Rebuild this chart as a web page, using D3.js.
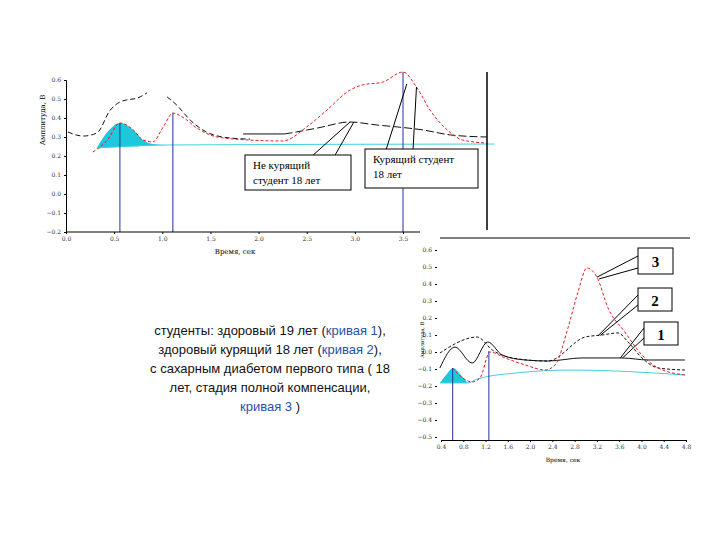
<!DOCTYPE html><html><head><meta charset="utf-8">
<script src="https://cdn.jsdelivr.net/npm/d3@7"></script>
<style>body{margin:0;background:#fff}</style></head><body>
<svg id="c" width="720" height="540"></svg>
<script>
// ---- top chart data (x: seconds, y: volts)
const topTicksX=[0.0,0.5,1.0,1.5,2.0,2.5,3.0,3.5];
const topTicksY=[-0.2,-0.1,0.0,0.1,0.2,0.3,0.4,0.5,0.6];
const topBlackA=[[0.02,0.326],[0.18,0.305],[0.32,0.321],[0.46,0.442],[0.56,0.484],[0.77,0.511],[0.84,0.532]];
const topBlackB=[[1.05,0.511],[1.15,0.468],[1.29,0.389],[1.46,0.326],[1.70,0.295],[1.91,0.289]];
const topBlackSolid=[[1.84,0.316],[2.27,0.316]];
const topBlackC=[[2.27,0.316],[2.33,0.321],[2.61,0.347],[2.95,0.379],[3.23,0.363],[3.44,0.353],[3.71,0.337],[3.99,0.311],[4.37,0.30]];
const topRed=[[0.28,0.221],[0.43,0.284],[0.56,0.374],[0.70,0.337],[0.80,0.284],[0.90,0.274],[1.01,0.353],[1.11,0.426],[1.21,0.405],[1.36,0.347],[1.57,0.300],[1.91,0.284],[2.25,0.279],[2.50,0.353],[2.71,0.442],[2.95,0.547],[3.08,0.574],[3.29,0.589],[3.50,0.642],[3.64,0.563],[3.78,0.442],[3.96,0.337],[4.12,0.284],[4.37,0.268]];
const topCyanTop=[[0.32,0.242],[0.43,0.326],[0.56,0.374],[0.70,0.337],[0.80,0.284],[0.90,0.263],[1.05,0.258]];
const topCyanBase=[[0.32,0.242],[1.05,0.258],[4.45,0.263]];
const topMarkers=[[0.56,0.374],[1.11,0.426],[3.50,0.642]];
// ---- bottom chart data
const botTicksX=[0.4,0.8,1.2,1.6,2,2.4,2.8,3.2,3.6,4,4.4,4.8];
const botTicksY=[-0.5,-0.4,-0.3,-0.2,-0.1,0.0,0.1,0.2,0.3,0.4,0.5,0.6];
const curve1=[[0.38,-0.094],[0.65,0.029],[0.96,-0.065],[1.24,0.059],[1.50,-0.018],[1.91,-0.047],[2.32,-0.053],[2.93,-0.035],[3.65,-0.035],[4.12,-0.047],[4.78,-0.047]];
const curve2=[[0.38,-0.006],[1.05,0.088],[1.32,0.012],[1.67,-0.035],[2.32,-0.053],[2.99,0.088],[3.29,0.10],[3.58,0.112],[3.76,0.059],[4.01,-0.035],[4.30,-0.094],[4.78,-0.106]];
const curve3=[[0.60,-0.094],[0.96,-0.176],[1.10,-0.153],[1.28,0.0],[1.55,-0.035],[1.91,-0.076],[2.27,-0.106],[2.45,-0.076],[2.68,0.141],[2.86,0.353],[3.02,0.494],[3.20,0.441],[3.40,0.259],[3.70,0.118],[4.01,-0.018],[4.30,-0.094],[4.78,-0.135]];
const botCyanTop=[[0.38,-0.182],[0.49,-0.135],[0.62,-0.094],[0.74,-0.129],[0.88,-0.182]];
const botCyanLine=[[0.38,-0.182],[0.88,-0.182],[1.05,-0.159],[1.73,-0.124],[2.75,-0.106],[4.78,-0.135]];
const botMarkers=[[0.61,-0.094],[1.26,0.006]];

const svg=d3.select("#c");
const tx=d3.scaleLinear().domain([0,3.5]).range([66,403]);
const ty=d3.scaleLinear().domain([-0.2,0.6]).range([232,80]);
const bx=d3.scaleLinear().domain([0.4,4.8]).range([441,686]);
const by=d3.scaleLinear().domain([-0.5,0.6]).range([437,250]);
function ln(xs,ys,cv){return d3.line().x(d=>xs(d[0])).y(d=>ys(d[1])).curve(cv||d3.curveMonotoneX);}
function path(g,data,xs,ys,stroke,dash,w){g.append("path").attr("d",ln(xs,ys)(data)).attr("fill","none").attr("stroke",stroke).attr("stroke-width",w||1).attr("stroke-dasharray",dash||null);}

// top chart
const T=svg.append("g");
T.append("path").attr("d",d3.area().x(d=>tx(d[0])).y1(d=>ty(d[1])).y0(d=>ty(0.242+(d[0]-0.32)*0.022)).curve(d3.curveMonotoneX)(topCyanTop)).attr("fill","#1ec8dc");
path(T,topCyanBase,tx,ty,"#40d0e0",null,1);
path(T,topBlackA,tx,ty,"#111","5,3");path(T,topBlackB,tx,ty,"#111","5,3");
path(T,topBlackSolid,tx,ty,"#111");path(T,topBlackC,tx,ty,"#111","8,3");
path(T,topRed,tx,ty,"#e02020","3,2");
topMarkers.forEach(m=>T.append("line").attr("x1",tx(m[0])).attr("x2",tx(m[0])).attr("y1",ty(m[1])).attr("y2",ty(-0.2)).attr("stroke","#223399"));
const ax1=T.append("g").attr("transform","translate(0,232)").call(d3.axisBottom(tx).tickValues(topTicksX).tickFormat(d3.format(".1f")).tickSize(2));
ax1.select(".domain").attr("d","M66,0H420");
const ay1=T.append("g").attr("transform","translate(66,0)").call(d3.axisLeft(ty).tickValues(topTicksY).tickFormat(d3.format(".1f")).tickSize(2));
svg.selectAll(".tick text").attr("font-family","DejaVu Serif").attr("font-size",6).attr("fill","#333");
T.append("text").attr("x",235).attr("y",254).attr("text-anchor","middle").attr("font-size",7).attr("font-family","DejaVu Serif").text("Время, сек");
T.append("text").attr("transform","translate(45,120) rotate(-90)").attr("text-anchor","middle").attr("font-size",7).attr("font-family","DejaVu Serif").text("Амплитуда, В");
T.append("line").attr("x1",487).attr("x2",487).attr("y1",72).attr("y2",230).attr("stroke","#000").attr("stroke-width",1.5);
T.append("line").attr("x1",440).attr("x2",690).attr("y1",238).attr("y2",238).attr("stroke","#000");
// callout boxes top
function box(x,y,w,h,lines,size,bold){svg.append("rect").attr("x",x).attr("y",y).attr("width",w).attr("height",h).attr("fill","#fff").attr("stroke","#000");
 lines.forEach((t,i)=>svg.append("text").attr("x",x+(bold?w/2:8)).attr("y",y+(bold?h/2+6:14+i*15)).attr("text-anchor",bold?"middle":"start").attr("font-family","Liberation Serif").attr("font-size",size).attr("font-weight",bold?"bold":null).text(t));}
function lineTo(x1,y1,x2,y2){svg.append("line").attr("x1",x1).attr("y1",y1).attr("x2",x2).attr("y2",y2).attr("stroke","#000");}
lineTo(311,157,tx(2.95),ty(0.379));lineTo(334,157,tx(2.99),ty(0.379));
lineTo(386,150,tx(3.54),ty(0.58));lineTo(413,150,tx(3.64),ty(0.563));
box(245,155,106,35,["Не курящий","студент 18 лет"],11);
box(365,149,113,39,["Курящий студент","18 лет"],11);

// bottom chart
const B=svg.append("g");
B.append("path").attr("d",d3.area().x(d=>bx(d[0])).y1(d=>by(d[1])).y0(by(-0.182)).curve(d3.curveMonotoneX)(botCyanTop)).attr("fill","#1ec8dc");
path(B,botCyanLine,bx,by,"#40d0e0");
path(B,curve1,bx,by,"#111");
path(B,curve2,bx,by,"#111","3,2");
path(B,curve3,bx,by,"#e02020","3,2");
botMarkers.forEach(m=>B.append("line").attr("x1",bx(m[0])).attr("x2",bx(m[0])).attr("y1",by(m[1])).attr("y2",440).attr("stroke","#223399"));
const ax2=B.append("g").attr("transform","translate(0,440)").call(d3.axisBottom(bx).tickValues(botTicksX).tickSize(2));
const ay2=B.append("g").attr("transform","translate(437,0)").call(d3.axisLeft(by).tickValues(botTicksY).tickFormat(d3.format(".1f")).tickSize(2));
ay2.select(".domain").remove();
svg.selectAll(".tick text").attr("font-family","DejaVu Serif").attr("font-size",6).attr("fill","#333");
B.append("text").attr("x",563).attr("y",462).attr("text-anchor","middle").attr("font-size",6).attr("font-family","DejaVu Serif").text("Время, сек");
B.append("text").attr("transform","translate(424,340) rotate(-90)").attr("text-anchor","middle").attr("font-size",5).attr("font-family","DejaVu Serif").text("Амплитуда, В");
lineTo(638,256,bx(3.2),by(0.44));lineTo(638,268,bx(3.24),by(0.43));
lineTo(638,295,bx(3.22),by(0.095));lineTo(638,305,bx(3.26),by(0.098));
lineTo(644,328,bx(3.62),by(-0.035));lineTo(644,338,bx(3.66),by(-0.035));
box(638,248,35,26,["3"],15,true);
box(638,288,34,23,["2"],15,true);
box(644,322,34,23,["1"],15,true);

// description text
const desc=[[["студенты: здоровый 19 лет (",0],["кривая 1",1],["),",0]],[["здоровый курящий  18 лет (",0],["кривая 2",1],["),",0]],[["с сахарным диабетом первого типа ( 18",0]],[["лет, стадия полной компенсации,",0]],[["кривая 3",1],[" )",0]]];
desc.forEach((parts,i)=>{const t=svg.append("text").attr("x",270).attr("y",335+i*19).attr("text-anchor","middle").attr("font-family","Liberation Sans").attr("font-size",13);
 parts.forEach(p=>t.append("tspan").attr("fill",p[1]?"#2a4fa8":"#111").text(p[0]));});
</script></body></html>
